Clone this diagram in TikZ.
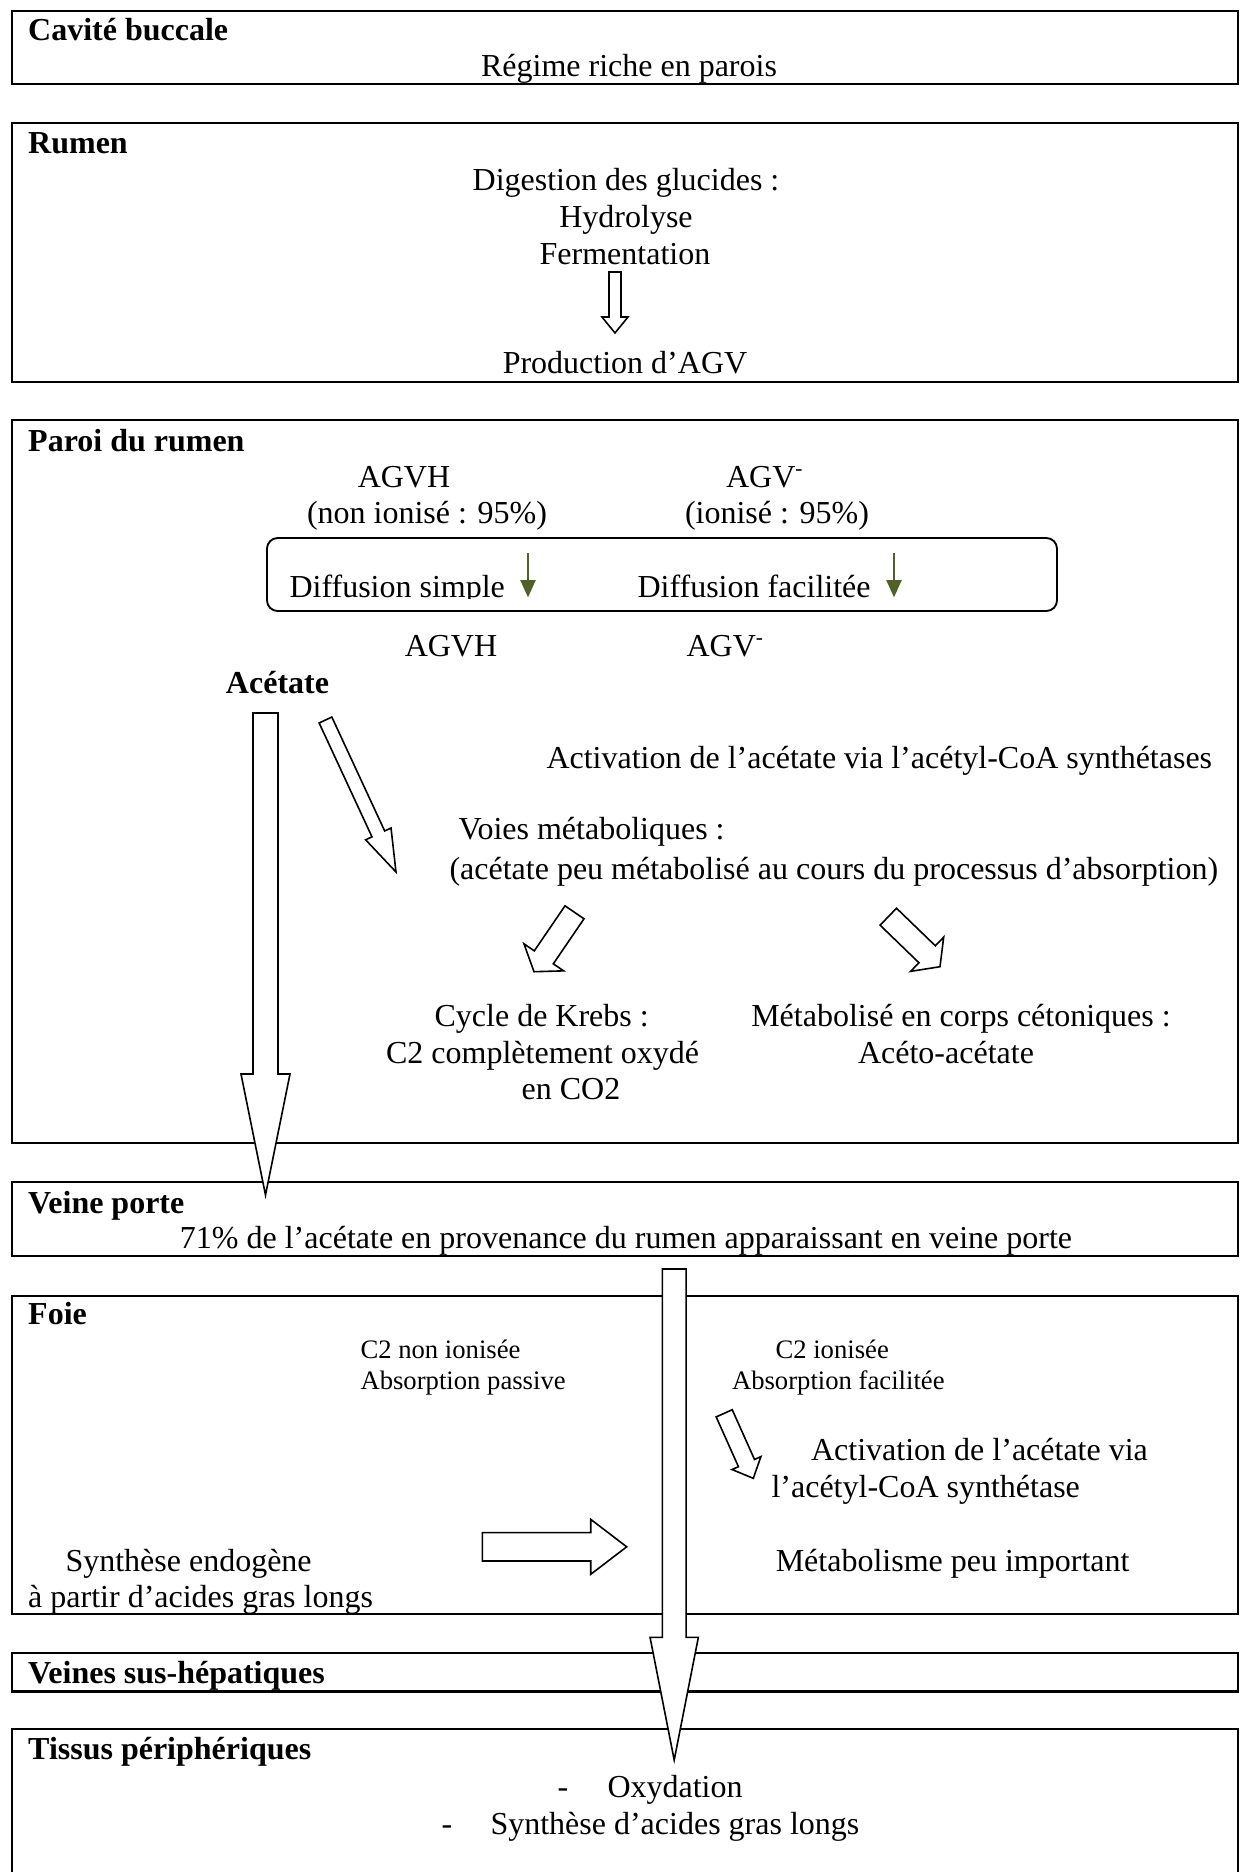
\documentclass[tikz,border=0pt]{standalone}
\usepackage{fontspec}
\setmainfont{Liberation Serif}
\usetikzlibrary{calc,arrows.meta}
\definecolor{olivegreen}{HTML}{4F6228}

% Hollow block arrow from a tail coordinate to a tip coordinate.
% #1 name, #2 tail, #3 tip, #4 shaft width, #5 head width, #6 head length (drawing units)
\newcommand\blockarrow[6]{%
  \pgfmathsetlengthmacro\bawa{#4*0.1875pt}%
  \pgfmathsetlengthmacro\bawb{#5*0.1875pt}%
  \pgfmathsetlengthmacro\bahl{#6*0.375pt}%
  \coordinate (#1-base) at ($(#3)!\bahl!(#2)$);
  \draw[hollow] ($(#2)!\bawa!90:(#3)$) -- ($(#1-base)!\bawa!90:(#3)$)
    -- ($(#1-base)!\bawb!90:(#3)$) -- (#3)
    -- ($(#1-base)!\bawb!-90:(#3)$) -- ($(#1-base)!\bawa!-90:(#3)$)
    -- ($(#2)!\bawa!-90:(#3)$) -- cycle;
}

\begin{document}
\begin{tikzpicture}[x=0.375pt,y=-0.375pt,
  panel/.style={draw=black,line width=0.8pt},
  txt/.style={inner sep=0pt,anchor=base,font=\fontsize{12}{14}\selectfont},
  txtl/.style={txt,anchor=base west},
  title/.style={txtl,font=\fontsize{12}{14}\selectfont\bfseries},
  small/.style={inner sep=0pt,anchor=base west,font=\fontsize{10}{12}\selectfont},
  hollow/.style={draw=black,fill=white,line width=0.6pt,line join=miter},
  flowtip/.style={draw=olivegreen,line width=1.1pt,-{Triangle[length=6.5pt,width=5.5pt]}}
]
\useasboundingbox (0,0) rectangle (1240,1872);
\fill[white] (0,0) rectangle (1240,1872);

% ---------- panels ----------
\draw[panel] (12,11) rectangle (1238,84);
\draw[panel] (12,123) rectangle (1238,382);
\draw[panel] (12,420) rectangle (1238,1143);
\draw[panel] (12,1182) rectangle (1238,1256);
\draw[panel] (12,1296) rectangle (1238,1614);
\draw[panel] (12,1653) rectangle (1238,1691.5);
\draw[panel] (12,1872) -- (12,1729) -- (1238,1729) -- (1238,1872);

% membrane of the rumen wall
\draw[line width=0.7pt,rounded corners=4pt] (267,538) rectangle (1057,611);

% ---------- block arrows ----------
\coordinate (r1t) at (615,272);    \coordinate (r1h) at (615,333);
\blockarrow{r1}{r1t}{r1h}{12}{26}{16}

\coordinate (p1t) at (265.5,713);  \coordinate (p1h) at (265.5,1195);
\blockarrow{p1}{p1t}{p1h}{25}{49}{121}

\coordinate (p2t) at (325.5,720);  \coordinate (p2h) at (396,872);
\blockarrow{p2}{p2t}{p2h}{14}{28}{42}

\coordinate (p3t) at (574.5,912.3); \coordinate (p3h) at (534,971.7);
\blockarrow{p3}{p3t}{p3h}{23}{48}{17.4}

\coordinate (p4t) at (888.3,916.7); \coordinate (p4h) at (940,966.7);
\blockarrow{p4}{p4t}{p4h}{23.6}{47.6}{17.9}

\coordinate (f1t) at (724.2,1413.3); \coordinate (f1h) at (753.3,1478.3);
\blockarrow{f1}{f1t}{f1h}{17.6}{31.6}{16.7}

\coordinate (f2t) at (482.3,1546.8); \coordinate (f2h) at (626.7,1546.8);
\blockarrow{f2}{f2t}{f2h}{28.3}{55}{36}

\coordinate (v1t) at (674.2,1269); \coordinate (v1h) at (674.2,1760);
\blockarrow{v1}{v1t}{v1h}{23.7}{48.3}{122.7}

% ---------- Cavité buccale ----------
\node[title] (tcav) at (27.7,40) {Cavité buccale};
\node[txt] (reg) at (629,76) {Régime riche en parois};

% ---------- Rumen ----------
\node[title] (trum) at (27.7,153.5) {Rumen};
\node[txt] (dig) at (626,190) {Digestion des glucides :};
\node[txt] (hyd) at (626,227) {Hydrolyse};
\node[txt] (fer) at (625,264) {Fermentation};
\node[txt] (prod) at (625,373) {Production d’AGV};

% ---------- Paroi du rumen ----------
\node[title] (tpar) at (27.7,451) {Paroi du rumen};
\node[txt] (agvh1) at (404,487) {AGVH};
\node[txt] (agv1) at (765,487) {AGV\textsuperscript{-}};
\node[txt] (nion) at (427,523.5) {(non ionisé : 95\%)};
\node[txt] (ion) at (777,523.5) {(ionisé : 95\%)};
\begin{scope}
  \clip (270,540) rectangle (1055,598.5);
  \node[txtl] (dsim) at (289,597) {Diffusion simple};
  \node[txtl] (dfac) at (637,597) {Diffusion facilitée};
\end{scope}
\coordinate (d1s) at (528,553); \coordinate (d1e) at (528,597.5);
\coordinate (d2s) at (894,553); \coordinate (d2e) at (894,597.5);
\draw[flowtip] (d1s) -- (d1e);
\draw[flowtip] (d2s) -- (d2e);
\node[txt] (agvh2) at (451,656) {AGVH};
\node[txt] (agv2) at (725.5,656) {AGV\textsuperscript{-}};
\node[txt,font=\fontsize{12}{14}\selectfont\bfseries] (acet) at (277.5,693) {Acétate};
\node[txtl] (act1) at (546,768) {Activation de l’acétate via l’acétyl-CoA synthétases};
\node[txtl] (voies) at (458,839) {Voies métaboliques :};
\node[txtl] (peu) at (449,879) {(acétate peu métabolisé au cours du processus d’absorption)};
\node[txt] (kreb) at (541.7,1026) {Cycle de Krebs :};
\node[txt] (c2ox) at (542.5,1063) {C2 complètement oxydé};
\node[txt] (co2) at (571,1099) {en CO2};
\node[txt] (ceto) at (961,1026) {Métabolisé en corps cétoniques :};
\node[txt] (aceto) at (946,1063) {Acéto-acétate};

% ---------- Veine porte ----------
\node[title] (tvp) at (27.7,1213) {Veine porte};
\node[txt] (pct) at (626,1248) {71\% de l’acétate en provenance du rumen apparaissant en veine porte};

% ---------- Foie ----------
\node[title] (tfoie) at (27.7,1324) {Foie};
\node[small] (c2n) at (360,1358) {C2 non ionisée};
\node[small] (abp) at (360,1389) {Absorption passive};
\node[small] (c2i) at (775,1358) {C2 ionisée};
\node[small] (abf) at (731.5,1389) {Absorption facilitée};
\node[txtl] (act2) at (810.6,1460) {Activation de l’acétate via};
\node[txtl] (act3) at (771,1497) {l’acétyl-CoA synthétase};
\node[txt] (synth) at (188.6,1571) {Synthèse endogène};
\node[txtl] (apart) at (27.7,1607) {à partir d’acides gras longs};
\node[txt] (meta) at (952.6,1571) {Métabolisme peu important};

% ---------- Veines sus-hépatiques ----------
\node[title] (tvsh) at (27.7,1683) {Veines sus-hépatiques};

% ---------- Tissus périphériques ----------
\node[title] (ttis) at (27.7,1759) {Tissus périphériques};
\node[txt] (dash1) at (563,1797) {-};
\node[txtl] (oxy) at (607,1797) {Oxydation};
\node[txt] (dash2) at (447,1834) {-};
\node[txtl] (sagl) at (490,1834) {Synthèse d’acides gras longs};
\end{tikzpicture}
\end{document}
